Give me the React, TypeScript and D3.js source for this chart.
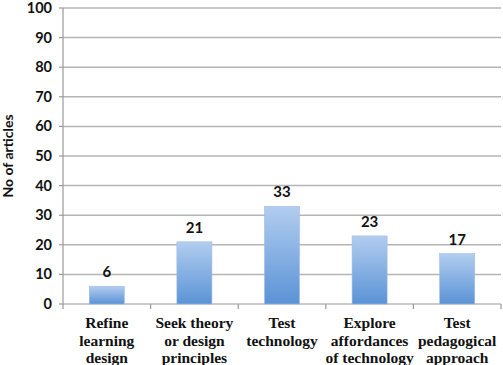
import React from "react";
import * as d3 from "d3";

const categories: string[][] = [
  ["Refine", "learning", "design"],
  ["Seek theory", "or design", "principles"],
  ["Test", "technology"],
  ["Explore", "affordances", "of technology"],
  ["Test", "pedagogical", "approach"],
];
const values: number[] = [6, 21, 33, 23, 17];
const yTicks: number[] = [0, 10, 20, 30, 40, 50, 60, 70, 80, 90, 100];
const yLabel = "No of articles";

export default function App() {
  const W = 503, H = 365;
  const left = 63, right = 501, top = 8, bottom = 304;
  const x = d3.scaleBand<number>().domain(d3.range(values.length)).range([left, right]).paddingInner(0.6).paddingOuter(0.3);
  const xb = d3.scaleBand<number>().domain(d3.range(values.length)).range([left, right]);
  const y = d3.scaleLinear().domain([0, 100]).range([bottom, top]);
  const sans = "Lato, 'Open Sans', sans-serif";
  const serif = "'Liberation Serif', 'DejaVu Serif', serif";
  return (
    <svg width={W} height={H} style={{ position: "absolute", left: 0, top: 0, background: "#fff" }}>
      <defs>
        <linearGradient id="barg" x1="0" y1="0" x2="0" y2="1">
          <stop offset="0%" stopColor="#b2cdef" />
          <stop offset="100%" stopColor="#5a93d6" />
        </linearGradient>
      </defs>
      {yTicks.map((t) => (
        <g key={t}>
          {t > 0 && <line x1={left} x2={right} y1={y(t)} y2={y(t)} stroke="#b5b5b5" strokeWidth={1.5} />}
          <line x1={left - 4} x2={left} y1={y(t)} y2={y(t)} stroke="#999" strokeWidth={1.2} />
          <text x={52} y={y(t)} dy="0.34em" textAnchor="end" style={{ fontFamily: sans, fontWeight: 700, fontSize: 14.5 }} fill="#111">{t}</text>
        </g>
      ))}
      <line x1={left} x2={left} y1={top} y2={bottom} stroke="#999" strokeWidth={1.2} />
      <line x1={left} x2={right} y1={bottom} y2={bottom} stroke="#999" strokeWidth={1.2} />
      {d3.range(values.length + 1).map((i) => {
        const xx = i < values.length ? xb(i)! : right;
        return <line key={i} x1={xx} x2={xx} y1={bottom} y2={bottom + 5} stroke="#999" strokeWidth={1.2} />;
      })}
      {values.map((v, i) => (
        <g key={i}>
          <rect x={x(i)!} y={y(v)} width={x.bandwidth()} height={bottom - y(v)} fill="url(#barg)" stroke="#9dbde6" strokeWidth={0.6} />
          <text x={x(i)! + x.bandwidth() / 2} y={y(v) - 9} textAnchor="middle" style={{ fontFamily: sans, fontWeight: 700, fontSize: 15 }} fill="#111">{v}</text>
          {categories[i].map((line, j) => (
            <text key={j} x={xb(i)! + xb.bandwidth() / 2} y={328 + j * 17.5} textAnchor="middle" style={{ fontFamily: serif, fontWeight: 700, fontSize: 15.5 }} fill="#111">{line}</text>
          ))}
        </g>
      ))}
      <text transform={`translate(13,${(top + bottom) / 2}) rotate(-90)`} textAnchor="middle" style={{ fontFamily: sans, fontWeight: 700, fontSize: 14 }} fill="#111">{yLabel}</text>
    </svg>
  );
}
